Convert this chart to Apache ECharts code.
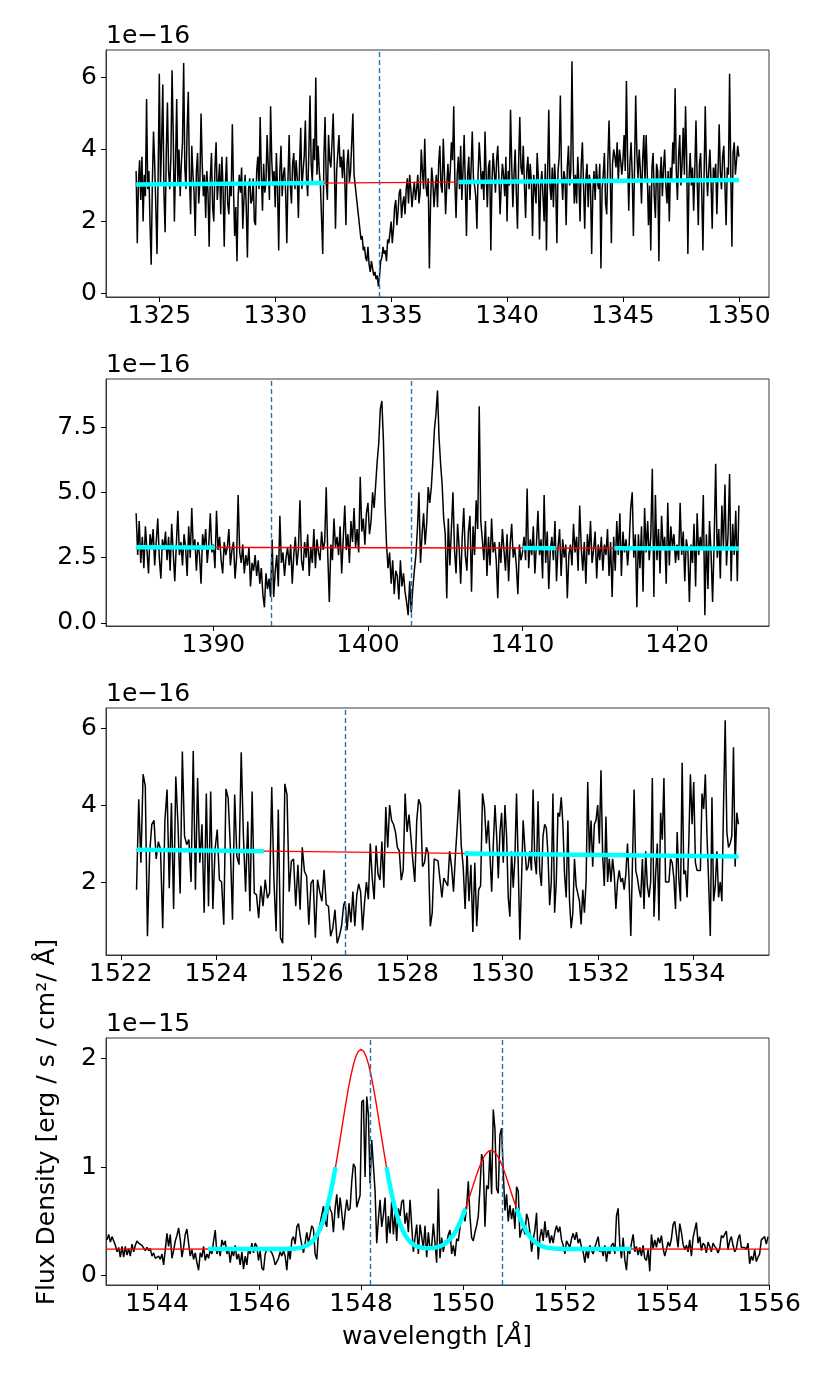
<!DOCTYPE html>
<html>
<head>
<meta charset="utf-8">
<script src="https://cdn.jsdelivr.net/npm/echarts@6/dist/echarts.min.js"></script>
<style>html,body{margin:0;padding:0;background:#fff}#c{width:830px;height:1384px}</style>
</head>
<body>
<div id="c"></div>
<script>
// ---------------- DATA (flux in units of the offset shown above each panel) ----------------
// Panel 1: C II 1334 region (x 1e-16), sampled every 0.05 A
const p1Range = [1324.0, 1350.0];
const p1Flux = [
3.4,1.4,3.1,3.7,2.6,3.8,2.0,3.3,2.7,5.4,2.9,3.4,1.9,0.8,3.1,4.5,3.6,2.4,1.1,3.3,
6.1,3.0,4.2,5.8,2.8,1.7,3.9,5.3,3.4,2.9,3.8,6.2,4.4,2.0,3.6,5.4,3.1,4.0,2.7,3.6,
4.2,6.4,3.5,2.9,4.6,5.6,3.2,2.2,4.1,3.3,2.8,1.6,3.4,3.9,2.5,3.1,5.0,3.6,2.7,3.3,
2.1,3.4,2.8,1.3,3.2,3.9,2.4,2.0,3.5,4.2,2.6,3.1,3.6,2.2,3.8,2.9,1.3,3.0,3.8,2.5,
2.2,3.1,2.7,4.7,2.9,1.6,2.4,0.9,2.7,3.3,2.8,3.5,1.8,2.6,3.3,2.4,1.0,2.9,3.2,2.5,
2.6,3.2,2.0,1.9,3.4,3.8,2.9,4.9,3.3,2.3,3.6,2.8,3.1,4.4,3.5,2.6,5.2,3.7,3.0,3.4,
2.4,3.9,2.9,1.2,3.4,4.1,2.7,3.3,3.5,2.8,1.4,3.2,4.4,3.0,2.5,3.6,3.9,2.9,3.7,3.2,
2.1,3.6,4.6,2.9,3.4,3.8,4.8,3.2,2.7,3.9,5.5,3.6,3.1,4.3,3.7,6.0,3.3,4.1,3.4,3.0,
3.0,1.1,3.8,4.9,3.1,2.6,4.4,3.7,3.5,4.2,5.0,3.6,1.8,3.4,3.9,4.4,3.5,3.8,3.2,4.0,
3.2,1.9,3.6,4.0,3.1,3.4,4.2,5.0,3.3,3.0,2.7,2.4,2.1,1.8,1.5,1.6,1.2,1.3,1.0,0.9,
1.3,0.8,0.6,0.9,0.7,0.5,0.6,0.4,0.5,0.2,0.5,0.9,1.0,1.3,1.1,1.2,0.9,1.5,1.4,1.7,
2.0,1.4,1.8,2.4,2.6,1.9,2.3,2.8,2.9,2.1,2.5,2.7,2.2,2.9,3.2,2.5,3.3,2.9,2.4,2.8,
3.1,2.6,2.9,3.3,2.5,2.8,4.0,3.4,2.9,4.3,3.0,2.7,3.2,0.7,2.5,3.5,3.1,2.4,2.9,3.3,
2.4,3.6,4.1,3.0,2.8,4.3,3.3,2.2,3.0,3.6,2.9,3.4,4.2,3.7,5.2,3.1,2.1,3.3,3.8,2.9,
4.1,2.6,3.4,4.4,3.0,1.6,3.3,3.8,2.6,3.5,4.5,3.2,3.0,2.7,1.8,3.3,4.2,3.6,2.9,3.4,
2.6,4.5,3.3,2.4,3.5,3.7,1.2,3.1,3.9,3.4,2.8,3.7,4.1,3.2,2.2,3.0,3.6,3.3,2.7,3.8,
2.0,3.4,3.0,5.1,3.6,2.4,3.3,4.0,2.8,1.8,3.6,4.9,3.5,3.3,4.1,3.0,2.1,3.4,3.8,2.9,
3.6,3.1,1.6,3.3,2.9,2.5,3.9,3.2,1.5,3.0,3.4,2.7,2.0,3.6,1.2,3.3,5.1,3.0,2.6,3.5,
2.4,3.6,3.0,1.4,3.4,3.8,5.5,3.3,2.6,3.4,3.2,1.9,3.5,4.1,3.0,3.4,6.45,3.8,2.5,3.3,
2.5,3.8,3.1,2.0,3.6,4.2,3.0,1.8,3.2,3.6,2.4,3.3,3.0,1.1,2.8,3.4,2.6,3.6,3.1,2.9,
3.6,0.7,2.9,3.3,3.9,2.5,2.2,3.7,4.8,3.4,1.4,3.6,4.0,3.8,3.5,4.2,3.1,4.0,3.7,3.3,
3.7,4.4,3.4,5.9,3.8,2.3,3.6,4.2,3.3,1.6,3.5,5.5,3.9,3.2,4.0,3.4,2.5,3.7,4.4,3.1,
4.4,3.3,1.9,3.0,1.2,3.5,3.9,2.7,2.1,3.6,3.4,0.9,3.2,3.8,2.7,3.5,4.0,3.0,2.5,3.4,
2.0,3.5,3.1,4.2,3.6,5.7,3.4,2.6,3.8,4.4,3.0,3.6,4.6,3.3,5.2,3.7,1.1,3.2,3.9,3.0,
3.5,2.3,3.4,4.8,3.2,1.9,3.6,3.9,2.8,1.2,3.3,5.2,3.5,2.7,3.4,4.0,3.1,1.8,3.5,3.2,
3.6,2.2,3.3,4.7,3.4,2.9,3.8,4.1,3.0,1.9,3.5,3.3,6.1,3.4,1.3,3.9,4.2,3.3,3.7,4.1,
3.8];
const p1ContWave = [1324.0, 1350.0];
const p1ContFlux = [3.03, 3.15];
const p1CyanRanges = [[1324.0, 1332.1], [1337.9, 1350.0]];
const p1Lines = [1334.5];
const p1XTicks = [1325, 1330, 1335, 1340, 1345, 1350];
const p1YTicks = [0, 2, 4, 6];

// Panel 2: Si IV region (x 1e-16), sampled every 0.1 A
const p2Range = [1385.0, 1424.0];
const p2Flux = [
4.2,2.6,3.9,2.3,3.3,2.1,3.7,2.8,1.9,3.4,
2.9,3.6,2.2,3.1,4.0,2.5,1.7,3.2,2.8,3.5,
2.4,3.3,2.0,3.8,2.7,1.6,3.0,4.3,2.6,3.1,
2.2,3.4,2.9,1.8,3.7,2.5,4.4,2.8,3.2,2.0,
3.1,2.6,1.5,3.4,2.9,3.6,2.3,3.0,4.2,2.7,
3.0,2.1,4.3,2.8,3.3,2.4,1.9,3.1,2.6,2.9,
3.6,2.2,2.8,3.1,1.7,2.5,4.9,2.7,2.3,3.0,
1.9,2.6,2.2,2.9,1.4,2.3,2.0,2.6,1.8,2.4,
1.5,2.1,1.1,0.6,1.9,1.3,1.7,1.0,3.2,1.0,
2.0,2.6,1.4,4.1,2.3,2.7,1.8,2.5,2.9,2.2,
3.0,1.5,2.6,3.3,2.2,2.8,4.7,2.4,2.0,3.1,
2.5,3.4,1.8,2.9,2.3,3.6,2.1,3.2,2.7,2.4,
3.5,2.8,3.1,5.2,2.6,0.8,3.0,2.4,4.0,2.9,
3.3,2.6,3.7,1.9,3.2,4.5,2.8,3.4,2.3,3.9,
3.1,4.4,2.9,3.6,2.7,5.6,3.5,4.0,3.0,4.2,
4.6,3.4,3.9,5.0,4.4,5.3,6.2,6.9,8.2,8.5,
7.0,4.6,3.0,2.1,2.7,1.5,2.4,1.1,2.0,1.8,
0.9,2.4,1.4,1.9,1.2,0.8,0.3,1.6,0.4,1.3,
2.0,2.6,3.6,5.0,2.3,3.4,4.2,3.0,3.8,5.2,
4.6,5.2,6.2,7.4,8.0,8.9,7.1,6.1,5.3,4.0,
3.4,0.95,4.0,2.2,3.6,5.0,2.8,1.9,3.8,2.9,
1.5,3.3,4.4,2.6,2.0,3.5,4.1,1.2,3.7,2.6,
4.7,3.6,8.3,3.9,3.2,2.4,3.9,1.8,3.3,2.2,
4.0,2.7,3.1,2.4,0.95,3.1,2.3,3.6,2.8,2.0,
3.4,1.6,3.0,3.8,2.5,2.9,2.2,1.1,3.0,2.4,
2.7,3.3,2.4,5.15,2.1,3.2,2.6,3.7,1.9,3.0,
4.3,2.6,3.2,1.7,4.9,2.3,3.5,1.3,2.8,3.3,
2.4,3.9,1.6,2.9,3.6,1.8,3.2,2.5,3.0,0.95,
2.6,3.0,2.2,3.8,2.7,3.3,2.0,4.5,2.9,2.0,
3.1,1.5,3.4,2.6,3.9,2.3,2.8,3.5,1.7,3.0,
2.4,3.3,2.0,3.0,2.6,3.6,1.8,3.1,1.0,3.3,
2.0,3.9,2.6,4.2,1.8,3.5,2.7,3.2,2.2,3.0,
4.4,5.0,2.5,3.4,0.6,3.4,2.1,3.7,1.2,4.4,
2.7,3.9,2.4,3.3,5.9,1.0,4.9,2.4,3.6,1.9,
4.1,2.8,3.3,1.5,4.6,2.2,3.7,2.9,3.4,2.3,
3.0,2.4,4.6,2.6,3.5,1.6,3.2,2.8,0.8,3.0,
2.3,3.8,1.4,4.2,2.6,3.3,2.8,4.9,0.3,3.4,
1.3,3.9,2.7,0.8,3.1,6.1,2.5,3.6,1.7,4.5,
2.9,5.3,2.2,3.4,5.7,1.6,3.8,2.6,4.3,1.6,
4.5];
const p2ContWave = [1385.0, 1424.0];
const p2ContFlux = [2.90, 2.85];
const p2CyanRanges = [[1385.0, 1390.1], [1410.0, 1412.15], [1415.95, 1424.0]];
const p2Lines = [1393.76, 1402.77];
const p2XTicks = [1390, 1400, 1410, 1420];
const p2YTicks = [0, 2.5, 5, 7.5];

// Panel 3: Si II 1526 region (x 1e-16), three contiguous stretches
const p3RangeA = [1522.33, 1526.67];
const p3FluxA = [
1.8,4.15,2.5,4.8,4.5,0.59,2.75,3.5,3.6,2.6,
3.05,2.85,0.8,3.6,4.4,1.84,4.05,1.3,4.74,3.5,
1.7,5.39,3.2,2.97,3.1,2.0,5.4,1.8,4.7,2.5,
3.5,1.2,4.3,1.37,4.35,1.3,2.85,3.36,2.06,2.0,
0.89,4.42,4.18,2.93,1.02,4.27,2.67,2.45,5.37,3.2,
1.75,3.57,1.24,4.35,1.71,1.67,1.06,1.9,1.37,2.06,
1.58,1.71,4.47,2.06,0.72,3.88,0.55,0.41,4.55,4.27,
1.75,2.54,2.6,1.37,2.45,1.28,2.9,2.28,2.15,0.89,
1.97,2.06,0.55,2.06,1.75,1.5,2.32,1.41,1.37,0.59,
0.8,1.28,0.41,0.59,0.85,1.41];
const p3RangeB = [1526.70, 1529.70];
const p3FluxB = [
1.5,0.75,1.45,0.95,1.75,0.85,1.65,1.95,1.75,0.75,
1.45,2.0,1.55,3.0,2.1,1.55,2.95,2.2,2.05,3.05,
1.85,3.95,2.9,4.0,3.6,3.5,3.3,2.9,2.8,2.05,
2.3,4.3,3.3,3.75,3.7,2.55,2.0,3.6,4.15,4.0,
2.4,2.5,2.9,2.75,0.85,1.2,2.6,2.55,2.55,2.6,
1.6,2.1,2.0,1.9,2.8,2.4,1.75,2.7,3.5,4.4,
2.95,2.4,1.3,2.8,1.5,2.45,0.7,2.5,0.85,1.8,
1.9,4.3,3.95,3.0,3.6];
const p3RangeC = [1529.77, 1534.94];
const p3FluxC = [
1.75,3.0,4.0,3.2,2.1,3.3,3.8,2.5,4.0,3.2,
1.6,1.1,2.8,1.85,2.6,4.3,2.5,0.5,2.0,3.6,
2.9,2.3,2.4,2.8,2.3,4.4,2.6,2.2,4.1,2.3,
1.9,3.2,3.5,3.4,2.7,1.4,2.0,4.3,1.2,2.0,
3.8,3.7,4.2,3.5,2.2,1.6,3.6,1.5,0.8,1.2,
2.6,1.9,1.7,1.5,0.9,1.8,1.2,2.0,4.6,2.7,
3.6,2.4,3.5,3.6,4.0,3.0,4.9,2.7,1.9,3.7,
2.0,2.6,2.0,2.6,2.2,1.3,2.0,2.3,2.0,2.1,
1.8,2.2,3.0,2.0,0.6,2.5,4.4,2.3,2.1,1.8,
1.6,2.6,1.3,2.8,1.9,1.6,2.0,4.7,1.1,2.2,
3.0,1.0,3.8,3.1,4.7,2.0,2.0,2.0,2.6,2.5,
2.1,1.3,3.3,2.1,1.5,5.1,2.2,2.3,1.6,3.0,
4.8,3.5,4.6,2.5,2.3,2.3,2.3,4.3,3.9,4.8,
3.2,2.0,0.6,4.2,1.5,1.9,2.8,1.6,2.0,1.5,
4.0,6.2,3.3,2.9,3.0,3.2,5.5,2.4,3.8,3.5];
const p3ContWave = [1522.33, 1534.94];
const p3ContFlux = [2.84, 2.66];
const p3CyanRanges = [[1522.33, 1525.0], [1529.2, 1534.94]];
const p3Lines = [1526.71];
const p3XTicks = [1522, 1524, 1526, 1528, 1530, 1532, 1534];
const p3YTicks = [2, 4, 6];

// Panel 4: C IV doublet (x 1e-15)
const p4Range = [1543.02, 1555.98];
const p4Flux = [
0.33,0.38,0.31,0.36,0.35,0.28,0.22,0.26,0.17,0.27,
0.17,0.27,0.19,0.25,0.18,0.29,0.22,0.28,0.32,0.30,
0.30,0.28,0.29,0.23,0.26,0.23,0.25,0.18,0.21,0.16,
0.15,0.18,0.15,0.20,0.10,0.24,0.39,0.27,0.38,0.16,
0.23,0.32,0.37,0.44,0.33,0.17,0.26,0.38,0.43,0.30,
0.18,0.24,0.15,0.21,0.12,0.05,0.21,0.17,0.27,0.14,
0.20,0.16,0.24,0.20,0.32,0.42,0.20,0.26,0.18,0.33,
0.28,0.32,0.20,0.25,0.12,0.23,0.18,0.28,0.15,0.20,
0.10,0.22,0.06,0.18,0.10,0.25,0.20,0.30,0.21,0.30,
0.27,0.14,0.23,0.07,0.05,0.20,0.24,0.26,0.23,0.21,
0.17,0.10,0.13,0.16,0.22,0.18,0.23,0.18,0.05,0.25,
0.15,0.33,0.36,0.29,0.45,0.48,0.37,0.28,0.21,0.30,
0.40,0.30,0.38,0.46,0.43,0.20,0.15,0.40,0.48,0.56,
0.64,0.50,0.45,0.70,0.61,0.58,0.40,0.62,0.75,0.53,
0.72,0.58,0.42,0.58,0.70,0.60,0.62,0.87,1.03,1.00,
0.63,0.62,0.74,1.60,1.62,0.91,1.65,1.48,0.85,1.25,
1.25,0.78,0.30,0.52,0.70,0.45,0.56,0.72,0.30,0.55,
0.39,0.69,0.38,0.58,0.32,0.62,0.55,0.68,0.70,0.48,
0.58,0.40,0.70,0.70,0.22,0.35,0.47,0.20,0.47,0.36,
0.25,0.46,0.17,0.40,0.25,0.27,0.48,0.30,0.12,0.80,
0.16,0.35,0.22,0.32,0.29,0.38,0.42,0.20,0.28,0.18,
0.34,0.32,0.44,0.55,0.60,0.50,0.63,0.87,0.55,0.35,
0.32,0.40,0.46,0.55,0.80,1.12,1.05,0.45,0.83,0.80,
1.15,0.75,1.53,1.35,0.80,0.76,1.30,1.36,0.95,0.60,
0.75,0.50,0.65,0.52,0.62,0.43,0.82,0.78,0.35,0.42,
0.44,0.38,0.57,0.52,0.40,0.22,0.33,0.42,0.58,0.15,
0.35,0.43,0.32,0.50,0.35,0.42,0.30,0.37,0.30,0.40,
0.46,0.40,0.45,0.33,0.28,0.20,0.32,0.29,0.26,0.34,
0.39,0.33,0.40,0.30,0.34,0.26,0.22,0.12,0.24,0.16,
0.28,0.23,0.20,0.26,0.31,0.36,0.22,0.25,0.18,0.28,
0.13,0.24,0.20,0.28,0.30,0.20,0.55,0.62,0.28,0.16,
0.35,0.15,0.05,0.26,0.20,0.30,0.38,0.22,0.27,0.19,
0.26,0.18,0.28,0.16,0.14,0.24,0.04,0.38,0.25,0.33,
0.26,0.35,0.30,0.37,0.25,0.18,0.24,0.31,0.27,0.34,
0.47,0.50,0.38,0.26,0.48,0.40,0.29,0.24,0.28,0.22,
0.33,0.18,0.35,0.42,0.49,0.30,0.36,0.23,0.30,0.28,
0.21,0.31,0.27,0.22,0.30,0.27,0.25,0.21,0.25,0.37,
0.35,0.38,0.41,0.24,0.32,0.36,0.28,0.22,0.25,0.34,
0.38,0.26,0.25,0.26,0.24,0.30,0.11,0.18,0.14,0.24,
0.13,0.17,0.20,0.33,0.32,0.36,0.29,0.36];
// fitted model (continuum + two gaussians), sampled every 0.05 A between 1546.5 and 1552.0
const p4ModelRange = [1546.5, 1552.0];
const p4ModelFlux = [
0.246,0.246,0.247,0.248,0.250,0.252,0.256,0.262,0.270,0.281,
0.298,0.319,0.348,0.386,0.435,0.493,0.567,0.655,0.757,0.872,
1.001,1.141,1.286,1.435,1.581,1.719,1.840,1.943,2.021,2.068,
2.085,2.068,2.021,1.943,1.840,1.719,1.581,1.435,1.286,1.141,
1.001,0.872,0.757,0.655,0.567,0.493,0.435,0.386,0.348,0.319,
0.298,0.281,0.270,0.263,0.257,0.254,0.253,0.253,0.255,0.258,
0.264,0.271,0.282,0.296,0.315,0.339,0.368,0.404,0.448,0.498,
0.555,0.619,0.688,0.760,0.834,0.906,0.974,1.034,1.085,1.123,
1.147,1.155,1.147,1.123,1.085,1.034,0.974,0.906,0.834,0.760,
0.688,0.619,0.555,0.498,0.448,0.404,0.368,0.339,0.315,0.296,
0.282,0.271,0.264,0.258,0.255,0.252,0.250,0.248,0.247,0.246,
0.246];
const p4Continuum = 0.245;
const p4ModelSpan = [1543.0, 1556.0];
const p4CyanRanges = [[1545.0, 1547.5], [1548.5, 1550.05], [1551.05, 1553.3]];
const p4Lines = [1548.19, 1550.77];
const p4XTicks = [1544, 1546, 1548, 1550, 1552, 1554, 1556];
const p4YTicks = [0, 1, 2];

// ---------------- BUILD ----------------
const FONT = '"DejaVu Sans", sans-serif';
function evenly(range, vals) {
  const n = vals.length, st = (range[1] - range[0]) / (n - 1);
  return vals.map((v, i) => [range[0] + st * i, v]);
}
function straight(wave, flux) { return [[wave[0], flux[0]], [wave[1], flux[1]]]; }
function straightAt(wave, flux, x) { return flux[0] + (flux[1] - flux[0]) * (x - wave[0]) / (wave[1] - wave[0]); }
function straightCyan(wave, flux, ranges) {
  return ranges.map(r => [[r[0], straightAt(wave, flux, r[0])], [r[1], straightAt(wave, flux, r[1])]]);
}
const p4ModelPts = evenly(p4ModelRange, p4ModelFlux);
function p4ModelAt(x) {
  if (x <= p4ModelRange[0] || x >= p4ModelRange[1]) return p4Continuum;
  for (let i = 1; i < p4ModelPts.length; i++) {
    const a = p4ModelPts[i - 1], b = p4ModelPts[i];
    if (x <= b[0]) return a[1] + (b[1] - a[1]) * (x - a[0]) / (b[0] - a[0]);
  }
  return p4Continuum;
}
const p4ModelLine = [[p4ModelSpan[0], p4Continuum]].concat(p4ModelPts, [[p4ModelSpan[1], p4Continuum]]);
const p4Cyan = p4CyanRanges.map(r => {
  const pts = [[r[0], p4ModelAt(r[0])]];
  p4ModelPts.forEach(p => { if (p[0] > r[0] && p[0] < r[1]) pts.push(p); });
  pts.push([r[1], p4ModelAt(r[1])]);
  return pts;
});

const panels = [
  { top: 50, x: [1322.7, 1351.3], y: [-0.094, 6.76], xt: p1XTicks, yt: p1YTicks, off: '1e\u221216', fmt: v => String(v),
    data: evenly(p1Range, p1Flux), model: straight(p1ContWave, p1ContFlux), cyan: straightCyan(p1ContWave, p1ContFlux, p1CyanRanges), lines: p1Lines },
  { top: 379, x: [1383.05, 1425.95], y: [-0.115, 9.34], xt: p2XTicks, yt: p2YTicks, off: '1e\u221216', fmt: v => v.toFixed(1),
    data: evenly(p2Range, p2Flux), model: straight(p2ContWave, p2ContFlux), cyan: straightCyan(p2ContWave, p2ContFlux, p2CyanRanges), lines: p2Lines },
  { top: 708, x: [1521.69, 1535.58], y: [0.104, 6.52], xt: p3XTicks, yt: p3YTicks, off: '1e\u221216', fmt: v => String(v),
    data: evenly(p3RangeA, p3FluxA).concat(evenly(p3RangeB, p3FluxB), evenly(p3RangeC, p3FluxC)),
    model: straight(p3ContWave, p3ContFlux), cyan: straightCyan(p3ContWave, p3ContFlux, p3CyanRanges), lines: p3Lines },
  { top: 1038, x: [1543.0, 1556.0], y: [-0.086, 2.19], xt: p4XTicks, yt: p4YTicks, off: '1e\u221215', fmt: v => String(v),
    data: evenly(p4Range, p4Flux), model: p4ModelLine, cyan: p4Cyan, lines: p4Lines }
];

const grids = [], xAxes = [], yAxes = [], series = [];
panels.forEach((p, i) => {
  grids.push({ left: 106, right: 61, top: p.top, height: 247, show: true, borderColor: '#3a3a3a', borderWidth: 1, backgroundColor: 'transparent' });
  xAxes.push({
    type: 'value', gridIndex: i, min: p.x[0], max: p.x[1],
    splitLine: { show: false },
    axisLine: { show: true, onZero: false, lineStyle: { color: '#3a3a3a', width: 1 } },
    axisTick: { show: true, customValues: p.xt, length: 5, lineStyle: { color: '#000', width: 1 } },
    axisLabel: { customValues: p.xt, fontSize: 25, fontFamily: FONT, color: '#000', margin: 7, formatter: v => String(v) }
  });
  yAxes.push({
    type: 'value', gridIndex: i, min: p.y[0], max: p.y[1],
    name: p.off, nameLocation: 'end', nameGap: 1,
    nameTextStyle: { fontSize: 25, fontFamily: FONT, color: '#000', align: 'left', verticalAlign: 'bottom' },
    splitLine: { show: false },
    axisLine: { show: true, onZero: false, lineStyle: { color: '#3a3a3a', width: 1 } },
    axisTick: { show: true, customValues: p.yt, length: 5, lineStyle: { color: '#000', width: 1 } },
    axisLabel: { customValues: p.yt, fontSize: 25, fontFamily: FONT, color: '#000', margin: 9, formatter: p.fmt }
  });
  series.push({ type: 'line', xAxisIndex: i, yAxisIndex: i, data: p.data, showSymbol: false, symbol: 'none',
    lineStyle: { color: '#000', width: 1.5 }, z: 2, silent: true, animation: false });
  series.push({ type: 'line', xAxisIndex: i, yAxisIndex: i, data: p.model, showSymbol: false, symbol: 'none',
    lineStyle: { color: '#ff0000', width: 1.4 }, z: 3, silent: true, animation: false });
  p.cyan.forEach((seg, k) => {
    const s = { type: 'line', xAxisIndex: i, yAxisIndex: i, data: seg, showSymbol: false, symbol: 'none',
      lineStyle: { color: '#00ffff', width: 4.5, cap: 'butt' }, z: 4, silent: true, animation: false };
    if (k === p.cyan.length - 1) {
      s.markLine = { silent: true, symbol: ['none', 'none'], animation: false, label: { show: false },
        lineStyle: { color: '#1f77b4', width: 1.4, type: [5, 3] },
        data: p.lines.map(v => ({ xAxis: v })) };
    }
    series.push(s);
  });
});

const chart = echarts.init(document.getElementById('c'), null, { renderer: 'canvas' });
chart.setOption({
  animation: false,
  backgroundColor: '#fff',
  grid: grids, xAxis: xAxes, yAxis: yAxes, series: series,
  graphic: [
    { type: 'text', x: 47, y: 1122, rotation: Math.PI / 2,
      style: { text: 'Flux Density [erg / s / cm\u00b2/ \u00c5]', fontSize: 25, fontFamily: FONT, fill: '#000', align: 'center', verticalAlign: 'middle' } },
    { type: 'text', x: 437, y: 1337,
      style: { text: 'wavelength [{i|\u00c5}]', fontSize: 25, fontFamily: FONT, fill: '#000', align: 'center', verticalAlign: 'middle',
        rich: { i: { fontSize: 25, fontFamily: FONT, fontStyle: 'italic', fill: '#000' } } } }
  ]
});
</script>
</body>
</html>
